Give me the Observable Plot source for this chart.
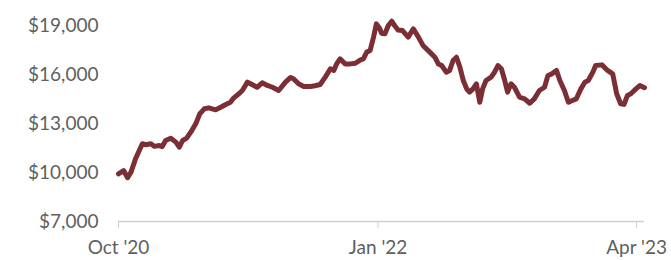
<!DOCTYPE html>
<html>
<head>
<meta charset="utf-8">
<script src="https://cdn.jsdelivr.net/npm/d3@7"></script>
<script src="https://cdn.jsdelivr.net/npm/@observablehq/plot@0.6"></script>
<style>
  html, body { margin: 0; padding: 0; background: #fff; }
  #chart svg [aria-label="x-axis tick"] { stroke: #cfcfcf; }
</style>
</head>
<body>
<div id="chart"></div>
<script>
const dates = [
  "2020-10-01","2020-10-10","2020-10-17","2020-10-23","2020-10-31","2020-11-12","2020-11-18","2020-11-27","2020-12-03","2020-12-12",
  "2020-12-17","2020-12-23","2021-01-01","2021-01-10","2021-01-16","2021-01-22","2021-01-29","2021-02-07","2021-02-14","2021-02-21",
  "2021-03-01","2021-03-09","2021-03-15","2021-03-21","2021-03-30","2021-04-07","2021-04-16","2021-04-22","2021-05-01","2021-05-07",
  "2021-05-16","2021-05-24","2021-06-02","2021-06-11","2021-06-20","2021-06-29","2021-07-10","2021-07-22","2021-07-31","2021-08-05",
  "2021-08-14","2021-08-23","2021-09-04","2021-09-12","2021-09-21","2021-09-30","2021-10-09","2021-10-15","2021-10-20","2021-10-26",
  "2021-11-04","2021-11-13","2021-11-22","2021-12-01","2021-12-06","2021-12-12","2021-12-18","2021-12-24","2021-12-29","2022-01-04",
  "2022-01-07","2022-01-13","2022-01-19","2022-01-25","2022-01-30","2022-02-05","2022-02-13","2022-02-23","2022-03-04","2022-03-13",
  "2022-03-21","2022-04-02","2022-04-11","2022-04-17","2022-04-23","2022-05-01","2022-05-07","2022-05-13","2022-05-19","2022-05-25",
  "2022-05-31","2022-06-06","2022-06-11","2022-06-17","2022-06-23","2022-06-29","2022-07-04","2022-07-10","2022-07-19","2022-07-25",
  "2022-07-31","2022-08-06","2022-08-12","2022-08-17","2022-08-23","2022-08-29","2022-09-07","2022-09-16","2022-09-25","2022-10-03",
  "2022-10-12","2022-10-21","2022-10-27","2022-11-03","2022-11-11","2022-11-17","2022-11-25","2022-12-02","2022-12-09","2022-12-16",
  "2022-12-24","2022-12-31","2023-01-06","2023-01-14","2023-01-19","2023-01-30","2023-02-09","2023-02-18","2023-02-25","2023-03-04",
  "2023-03-10","2023-03-16","2023-03-22","2023-03-31","2023-04-07","2023-04-15"
];
const values = [
  9920,10120,9680,10020,10840,11760,11700,11760,11600,11650,
  11590,11960,12100,11860,11550,11960,12100,12570,12980,13590,
  13900,13960,13900,13840,14000,14150,14300,14570,14820,15020,
  15530,15390,15220,15490,15330,15220,15020,15530,15820,15740,
  15430,15270,15270,15310,15390,15840,16350,16250,16650,16960,
  16650,16650,16690,16900,16960,17370,17470,18290,19100,18800,
  18530,18490,19000,19260,19000,18730,18690,18290,18800,18290,
  17780,17370,17060,16650,16550,16140,16250,16860,17060,16450,
  15630,15120,14920,15120,15430,14300,15120,15630,15840,16140,
  16550,16350,15630,14920,15430,15220,14610,14510,14240,14510,
  15020,15220,15940,16040,16250,15630,15020,14300,14410,14510,
  15120,15530,15630,16140,16550,16590,16250,16040,14820,14210,
  14170,14720,14820,15120,15330,15190
];
const yTicks = [7000, 10000, 13000, 16000, 19000];
const xTickDates = ["2020-10-01", "2022-01-01", "2023-04-01"];
const xTickLabels = ["Oct '20", "Jan '22", "Apr '23"];

const parse = d3.utcParse("%Y-%m-%d");
const data = dates.map((d, i) => ({date: parse(d), value: values[i]}));
const xTicks = xTickDates.map(parse);
const labelFor = new Map(xTicks.map((d, i) => [+d, xTickLabels[i]]));

const chart = Plot.plot({
  width: 671,
  height: 260,
  marginLeft: 118,
  marginRight: 27,
  marginTop: 25,
  marginBottom: 39,
  style: {fontFamily: "Lato, sans-serif", fontSize: "19px", color: "#5f5f5f", background: "#fff"},
  x: {type: "utc", domain: [data[0].date, data[data.length - 1].date]},
  y: {domain: [7000, 19000]},
  marks: [
    Plot.axisY({ticks: yTicks, tickSize: 0, tickPadding: 20, label: null,
      tickFormat: d => "$" + d3.format(",")(d)}),
    Plot.ruleY([7000], {stroke: "#cfcfcf", strokeWidth: 1.5}),
    Plot.axisX({ticks: xTicks, tickSize: 7, tickPadding: 12, label: null,
      tickFormat: d => labelFor.get(+d)}),
    Plot.lineY(data, {x: "date", y: "value", stroke: "#7b2f35", strokeWidth: 5,
      strokeLinejoin: "round", strokeLinecap: "round"})
  ]
});
document.getElementById("chart").appendChild(chart);
</script>
</body>
</html>
